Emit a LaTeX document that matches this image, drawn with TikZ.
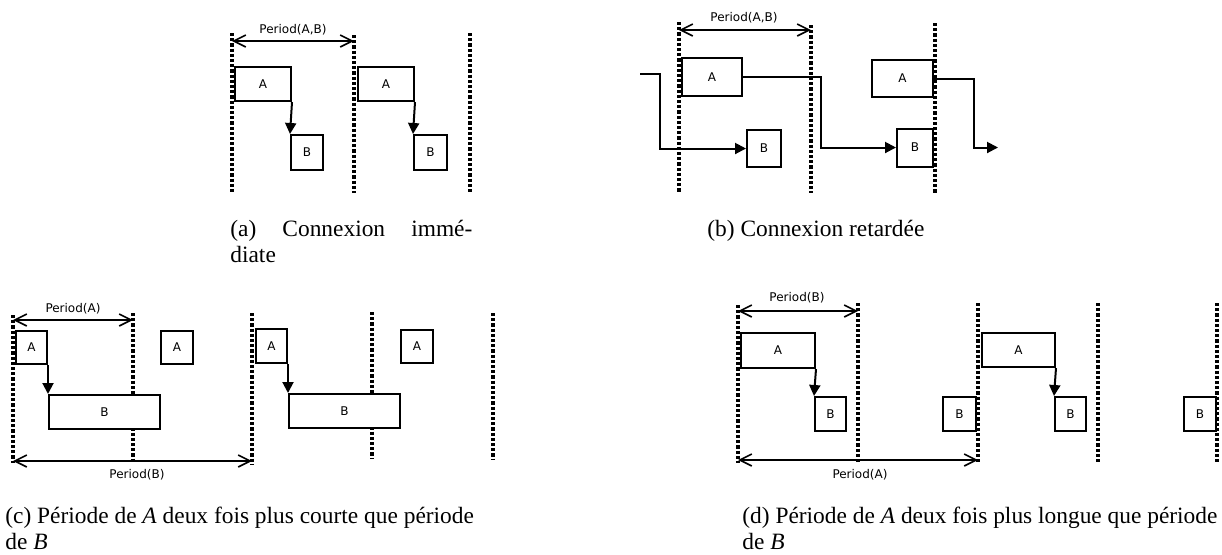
\documentclass[tikz,border=0pt]{standalone}
\usepackage{fontspec}
\setmainfont{Liberation Serif}
\newfontfamily\diafont{DejaVu Sans}
\usetikzlibrary{arrows.meta}

\begin{document}
\begin{tikzpicture}[x=0.5pt,y=-0.5pt,
		blk/.style={draw=black,fill=white,line width=1pt,inner sep=0pt,font=\diafont\fontsize{6}{7}\selectfont},
		dotl/.style={black,line width=1.7pt,dash pattern=on 1.6pt off 1pt},
		per/.style={black,line width=0.8pt,{Straight Barb[length=6pt,width=6pt]}-{Straight Barb[length=6pt,width=6pt]}},
		conn/.style={black,line width=1pt,-{Triangle[length=5.5pt,width=5.5pt]}},
		lbl/.style={inner sep=0pt,font=\diafont\fontsize{6}{7}\selectfont},
		subcap/.style={inner sep=0pt,anchor=north west,align=left,font=\fontsize{11.7}{13}\selectfont}]
			\useasboundingbox (0,0) rectangle (1222,554);
			% (a)
			\foreach \x/\t in {232/33,354/35,470/33}
				\draw [dotl] (\x,\t) -- (\x,193);
			\coordinate (pa1) at (232,41);
			\coordinate (pa2) at (354,41);
			\draw [per] (pa1) -- (pa2);
			\node [lbl] (lpa) at (293,30) {Period(A,B)};
			\node [blk,minimum width=28pt,minimum height=17pt] (aa1) at (263,84) {A};
			\node [blk,minimum width=16pt,minimum height=17.5pt] (ab1) at (307,152.5) {B};
			\node [blk,minimum width=28pt,minimum height=17pt] (aa2) at (386,84) {A};
			\node [blk,minimum width=16.5pt,minimum height=17.5pt] (ab2) at (430.5,152.5) {B};
			\draw [conn] (aa1.south east) -- (ab1.north west);
			\draw [conn] (aa2.south east) -- (ab2.north west);
			\node [subcap,text width=121pt] (capa) at (230,220) {(a)\hfill Connexion\hfill immé-\\diate};
			% (b)
			\foreach \x/\t in {679/22,811/25,935/23}
				\draw [dotl] (\x,\t) -- (\x,193);
			\coordinate (pb1) at (679,30);
			\coordinate (pb2) at (811,30);
			\draw [per] (pb1) -- (pb2);
			\node [lbl] (lpb) at (744,18) {Period(A,B)};
			\node [blk,minimum width=30pt,minimum height=19pt] (ba1) at (712,77) {A};
			\node [blk,minimum width=17pt,minimum height=18.5pt] (bb1) at (764,148.5) {B};
			\node [blk,minimum width=30.5pt,minimum height=18.5pt] (ba2) at (902.5,78.5) {A};
			\node [blk,minimum width=18pt,minimum height=19pt] (bb2) at (915,147.5) {B};
			\coordinate (bin) at (640,74);
			\coordinate (bout) at (998,147.5);
			\draw [conn] (bin) -- ++(20,0) |- (bb1.west);
			\draw [conn] (ba1.east) -- ++(78,0) |- (bb2.west);
			\draw [conn] (ba2.east) -- ++(40,0) |- (bout);
			\node [subcap] (capb) at (707,220) {(b) Connexion retardée};
			% (c)
			\foreach \x/\t/\b in {13/315/463,133/313/463,252/313/465,372/312/459,493/313/459}
				\draw [dotl] (\x,\t) -- (\x,\b);
			\coordinate (pc1) at (13,320);
			\coordinate (pc2) at (133,320);
			\coordinate (pc3) at (13,461);
			\coordinate (pc4) at (252,461);
			\draw [per] (pc1) -- (pc2);
			\draw [per] (pc3) -- (pc4);
			\node [lbl] (lpc1) at (73,309) {Period(A)};
			\node [lbl] (lpc2) at (137,475) {Period(B)};
			\node [blk,minimum width=15.5pt,minimum height=16.5pt] (ca1) at (31.5,347.5) {A};
			\node [blk,minimum width=16pt,minimum height=16.5pt] (ca2) at (177,347.5) {A};
			\node [blk,minimum width=55.5pt,minimum height=17pt] (cb1) at (104.5,412) {B};
			\node [blk,minimum width=15.5pt,minimum height=17pt] (ca3) at (271.5,346) {A};
			\node [blk,minimum width=16pt,minimum height=16.5pt] (ca4) at (417,346.5) {A};
			\node [blk,minimum width=55.5pt,minimum height=17pt] (cb2) at (344.5,411) {B};
			\draw [conn] (ca1.south east) -- (cb1.north west);
			\draw [conn] (ca3.south east) -- (cb2.north west);
			\node [subcap] (capc) at (5,507) {(c) Période de \textit{A} deux fois plus courte que période\\de \textit{B}};
			% (d)
			\foreach \x/\t in {738/305,858/303,978/303,1098/303,1217/303}
				\draw [dotl] (\x,\t) -- (\x,463);
			\coordinate (pd1) at (738,311);
			\coordinate (pd2) at (858,311);
			\coordinate (pd3) at (738,460);
			\coordinate (pd4) at (978,460);
			\draw [per] (pd1) -- (pd2);
			\draw [per] (pd3) -- (pd4);
			\node [lbl] (lpd1) at (797,298) {Period(B)};
			\node [lbl] (lpd2) at (860,475) {Period(A)};
			\node [blk,minimum width=37pt,minimum height=17.5pt] (da1) at (778,350.5) {A};
			\node [blk,minimum width=15.5pt,minimum height=17pt] (db1) at (830.5,414) {B};
			\node [blk,minimum width=16.5pt,minimum height=17pt] (db2) at (959.5,414) {B};
			\node [blk,minimum width=36.5pt,minimum height=17pt] (da2) at (1018.5,350) {A};
			\node [blk,minimum width=15.5pt,minimum height=17pt] (db3) at (1070.5,414) {B};
			\node [blk,minimum width=16pt,minimum height=17pt] (db4) at (1200,414) {B};
			\draw [conn] (da1.south east) -- (db1.north west);
			\draw [conn] (da2.south east) -- (db3.north west);
			\node [subcap] (capd) at (742,507) {(d) Période de \textit{A} deux fois plus longue que période\\de \textit{B}};
\end{tikzpicture}
\end{document}
